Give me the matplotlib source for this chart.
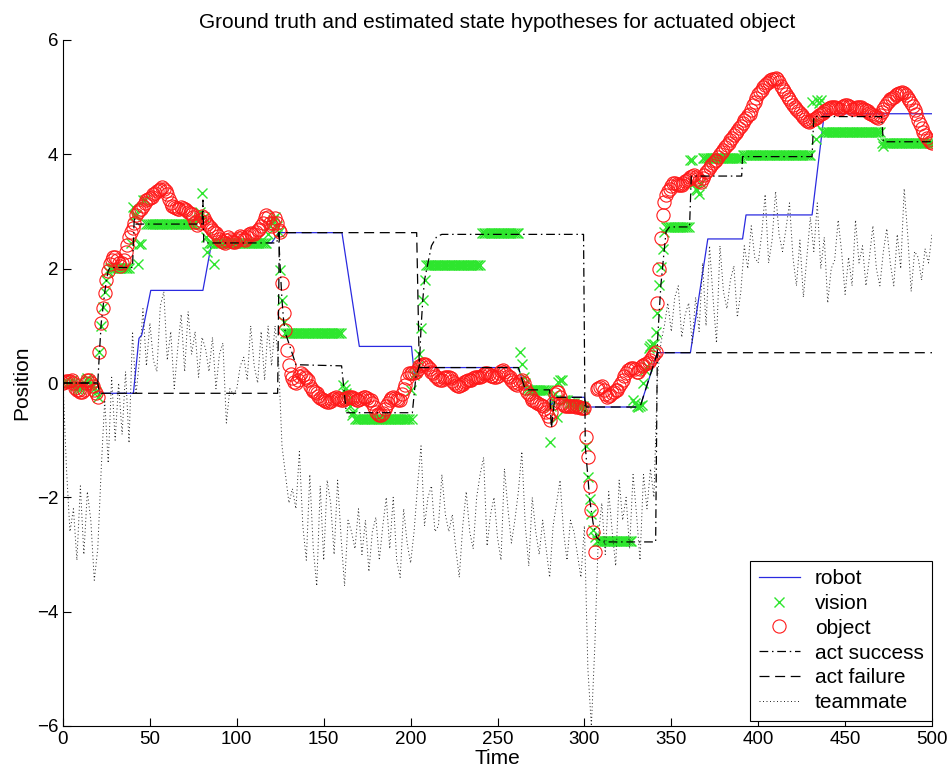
import numpy as np
import matplotlib
matplotlib.use("Agg")
import matplotlib.pyplot as plt

plt.rcParams['font.family'] = ['Liberation Sans', 'DejaVu Sans']

# ---------------- data ----------------
# object estimate (red circles), one value per time step t = 0..500
object_pos = [
    0.0, 0.02, 0.03, 0.03, 0.04, 0.05, 0.0, -0.08, -0.12, -0.13,
    -0.15, -0.15, -0.12, 0.0, 0.05, 0.05, 0.0, -0.05, -0.12, -0.18,
    -0.24, 0.55, 1.05, 1.32, 1.58, 1.8, 1.96, 2.08, 2.15, 2.2,
    2.2, 2.15, 2.1, 2.05, 2.1, 2.15, 2.3, 2.42, 2.55, 2.65,
    2.72, 2.8, 2.94, 3.0, 3.02, 3.05, 3.1, 3.15, 3.2, 3.22,
    3.24, 3.26, 3.3, 3.33, 3.36, 3.38, 3.4, 3.42, 3.4, 3.35,
    3.3, 3.22, 3.15, 3.1, 3.08, 3.06, 3.04, 3.05, 3.07, 3.06,
    3.04, 3.02, 3.0, 2.98, 2.95, 2.9, 2.82, 2.76, 2.8, 2.86,
    2.92, 2.88, 2.82, 2.78, 2.74, 2.72, 2.68, 2.65, 2.62, 2.58,
    2.52, 2.48, 2.46, 2.45, 2.5, 2.55, 2.52, 2.48, 2.46, 2.47,
    2.5, 2.54, 2.58, 2.56, 2.52, 2.5, 2.55, 2.6, 2.62, 2.6,
    2.6, 2.64, 2.68, 2.7, 2.75, 2.8, 2.88, 2.94, 2.9, 2.8,
    2.75, 2.8, 2.88, 2.8, 2.67, 2.65, 1.75, 1.22, 0.93, 0.57,
    0.31, 0.15, 0.08, 0.02, 0.0, 0.05, 0.12, 0.17, 0.14, 0.1,
    0.09, 0.05, -0.06, -0.1, -0.14, -0.16, -0.18, -0.22, -0.26, -0.28,
    -0.3, -0.32, -0.33, -0.33, -0.31, -0.28, -0.26, -0.24, -0.26, -0.28,
    -0.3, -0.3, -0.28, -0.26, -0.25, -0.24, -0.24, -0.26, -0.28, -0.3,
    -0.3, -0.28, -0.26, -0.24, -0.25, -0.27, -0.29, -0.3, -0.35, -0.42,
    -0.5, -0.54, -0.56, -0.56, -0.52, -0.46, -0.41, -0.35, -0.3, -0.26,
    -0.24, -0.26, -0.28, -0.3, -0.3, -0.2, -0.1, -0.03, 0.08, 0.17,
    0.18, 0.17, 0.17, 0.2, 0.25, 0.29, 0.32, 0.33, 0.33, 0.32,
    0.28, 0.24, 0.2, 0.17, 0.13, 0.1, 0.07, 0.05, 0.06, 0.08,
    0.1, 0.11, 0.11, 0.08, 0.04, 0.0, -0.03, -0.05, -0.06, -0.04,
    -0.01, 0.02, 0.04, 0.05, 0.05, 0.06, 0.08, 0.1, 0.11, 0.11,
    0.11, 0.13, 0.15, 0.17, 0.17, 0.15, 0.13, 0.12, 0.11, 0.11,
    0.13, 0.17, 0.21, 0.23, 0.2, 0.16, 0.12, 0.1, 0.06, 0.02,
    -0.01, -0.03, 0.0, 0.03, 0.05, 0.0, -0.08, -0.15, -0.2, -0.25,
    -0.3, -0.32, -0.34, -0.35, -0.36, -0.38, -0.4, -0.45, -0.5, -0.58,
    -0.65, -0.5, -0.35, -0.2, -0.15, -0.15, -0.25, -0.35, -0.38, -0.4,
    -0.41, -0.41, -0.4, -0.4, -0.41, -0.42, -0.41, -0.42, -0.43, -0.44,
    -0.44, -0.94, -1.3, -1.8, -2.22, -2.6, -2.95, -0.1, -0.09, -0.07,
    -0.06, -0.12, -0.2, -0.24, -0.23, -0.21, -0.18, -0.15, -0.13, -0.12,
    -0.05, 0.0, 0.05, 0.12, 0.18, 0.23, 0.25, 0.26, 0.26, 0.24,
    0.2, 0.2, 0.24, 0.29, 0.31, 0.33, 0.35, 0.37, 0.4, 0.45,
    0.5, 0.55, 1.4, 2.0, 2.53, 2.94, 3.17, 3.28, 3.35, 3.4,
    3.45, 3.49, 3.5, 3.48, 3.46, 3.46, 3.47, 3.5, 3.53, 3.55,
    3.57, 3.6, 3.62, 3.64, 3.6, 3.56, 3.53, 3.52, 3.58, 3.64,
    3.69, 3.73, 3.77, 3.81, 3.85, 3.88, 3.9, 3.95, 4.0, 4.04,
    4.08, 4.12, 4.16, 4.2, 4.25, 4.29, 4.33, 4.37, 4.41, 4.46,
    4.5, 4.55, 4.6, 4.64, 4.68, 4.71, 4.78, 4.86, 4.92, 4.98,
    5.05, 5.09, 5.13, 5.17, 5.21, 5.24, 5.27, 5.3, 5.31, 5.32,
    5.33, 5.32, 5.26, 5.2, 5.15, 5.1, 5.06, 5.01, 4.96, 4.92,
    4.87, 4.83, 4.8, 4.76, 4.72, 4.68, 4.66, 4.62, 4.58, 4.57,
    4.58, 4.6, 4.62, 4.64, 4.66, 4.69, 4.71, 4.73, 4.75, 4.77,
    4.79, 4.81, 4.82, 4.83, 4.82, 4.81, 4.8, 4.8, 4.82, 4.84,
    4.86, 4.86, 4.84, 4.82, 4.8, 4.8, 4.81, 4.82, 4.83, 4.82,
    4.8, 4.79, 4.77, 4.75, 4.73, 4.71, 4.69, 4.67, 4.65, 4.63,
    4.68, 4.74, 4.8, 4.85, 4.89, 4.93, 4.96, 4.99, 5.01, 5.03,
    5.05, 5.07, 5.08, 5.09, 5.08, 5.04, 4.99, 4.95, 4.9, 4.85,
    4.78, 4.7, 4.6, 4.53, 4.46, 4.39, 4.34, 4.29, 4.25, 4.22,
    4.19,
]

# vision measurements (green x), one value per time step t = 0..500
vision_pos = [
    0.0, 0.02, 0.03, 0.0, -0.02, 0.05, 0.0, -0.05, -0.1, -0.05,
    -0.1, -0.05, 0.0, 0.05, 0.08, 0.05, 0.0, -0.05, -0.1, -0.15,
    -0.25, 0.55, 1.0, 1.33, 1.6, 1.8, 1.96, 2.02, 2.02, 2.02,
    2.02, 2.02, 2.02, 2.02, 2.02, 2.02, 2.02, 2.02, 2.02, 2.45,
    3.08, 2.94, 2.94, 2.09, 2.44, 2.44, 3.2, 3.2, 2.78, 2.78,
    2.78, 2.78, 2.78, 2.78, 2.78, 2.78, 2.78, 2.78, 2.78, 2.78,
    2.78, 2.78, 2.78, 2.78, 2.78, 2.78, 2.78, 2.78, 2.78, 2.78,
    2.78, 2.78, 2.78, 2.78, 2.78, 2.78, 2.78, 2.85, 2.9, 3.0,
    3.32, 2.9, 2.56, 2.3, 2.45, 2.45, 2.45, 2.09, 2.45, 2.45,
    2.45, 2.45, 2.45, 2.45, 2.45, 2.45, 2.45, 2.45, 2.45, 2.45,
    2.45, 2.45, 2.45, 2.45, 2.45, 2.45, 2.45, 2.45, 2.45, 2.45,
    2.45, 2.45, 2.45, 2.45, 2.45, 2.45, 2.45, 2.45, 2.6, 2.75,
    2.8, 2.85, 2.9, 2.75, 2.65, 1.98, 1.45, 1.07, 0.87, 0.87,
    0.87, 0.87, 0.87, 0.87, 0.87, 0.87, 0.87, 0.87, 0.87, 0.87,
    0.87, 0.87, 0.87, 0.87, 0.87, 0.87, 0.87, 0.87, 0.87, 0.87,
    0.87, 0.87, 0.87, 0.87, 0.87, 0.87, 0.87, 0.87, 0.87, 0.87,
    0.87, -0.03, -0.1, -0.18, -0.3, -0.4, -0.56, -0.5, -0.63, -0.63,
    -0.63, -0.63, -0.63, -0.63, -0.63, -0.63, -0.63, -0.63, -0.63, -0.63,
    -0.63, -0.63, -0.63, -0.63, -0.63, -0.63, -0.63, -0.63, -0.63, -0.63,
    -0.63, -0.63, -0.63, -0.63, -0.63, -0.63, -0.63, -0.63, -0.63, -0.63,
    -0.12, -0.63, 0.14, 0.2, 0.3, 0.5, 0.96, 1.45, 1.8, 2.07,
    2.07, 2.07, 2.07, 2.07, 2.07, 2.07, 2.07, 2.07, 2.07, 2.07,
    2.07, 2.07, 2.07, 2.07, 2.07, 2.07, 2.07, 2.07, 2.07, 2.07,
    2.07, 2.07, 2.07, 2.07, 2.07, 2.07, 2.07, 2.07, 2.07, 2.07,
    2.07, 2.62, 2.62, 2.62, 2.62, 2.62, 2.62, 2.62, 2.62, 2.62,
    2.62, 2.62, 2.62, 2.62, 2.62, 2.62, 2.62, 2.62, 2.62, 2.62,
    2.62, 2.62, 2.62, 0.55, 0.34, 0.11, 0.0, -0.1, -0.12, -0.12,
    -0.12, -0.12, -0.12, -0.12, -0.12, -0.12, -0.12, -0.12, -0.12, -0.12,
    -1.03, -0.4, -0.3, -0.2, -0.59, 0.02, 0.05, 0.05, -0.3, -0.3,
    -0.3, -0.35, -0.35, -0.35, -0.35, -0.38, -0.38, -0.4, -0.4, -0.4,
    -0.45, -1.11, -1.64, -2.03, -2.3, -2.57, -2.7, -2.77, -2.77, -2.77,
    -2.77, -2.77, -2.77, -2.77, -2.77, -2.77, -2.77, -2.77, -2.77, -2.77,
    -2.77, -2.77, -2.77, -2.77, -2.77, -2.77, -2.77, -2.77, -0.3, -0.35,
    -0.4, -0.42, -0.4, -0.38, 0.0, 0.23, 0.3, 0.61, 0.65, 0.69,
    0.69, 0.9, 1.22, 1.71, 2.03, 2.35, 2.65, 2.73, 2.73, 2.73,
    2.73, 2.73, 2.73, 2.73, 2.73, 2.73, 2.73, 2.73, 2.73, 2.73,
    2.73, 3.9, 3.9, 3.5, 3.4, 3.37, 3.3, 3.5, 3.93, 3.93,
    3.93, 3.93, 3.93, 3.93, 3.93, 3.93, 3.93, 3.93, 3.93, 3.93,
    3.93, 3.93, 3.93, 3.93, 3.93, 3.93, 3.93, 3.93, 3.93, 3.93,
    3.93, 3.99, 3.99, 3.99, 3.99, 3.99, 3.99, 3.99, 3.99, 3.99,
    3.99, 3.99, 3.99, 3.99, 3.99, 3.99, 3.99, 3.99, 3.99, 3.99,
    3.99, 3.99, 3.99, 3.99, 3.99, 3.99, 3.99, 3.99, 3.99, 3.99,
    3.99, 3.99, 3.99, 3.99, 3.99, 3.99, 3.99, 3.99, 3.99, 3.99,
    3.99, 4.92, 4.57, 4.27, 4.95, 4.9, 4.95, 4.39, 4.39, 4.39,
    4.39, 4.39, 4.39, 4.39, 4.39, 4.39, 4.39, 4.39, 4.39, 4.39,
    4.39, 4.39, 4.39, 4.39, 4.39, 4.39, 4.39, 4.39, 4.39, 4.39,
    4.39, 4.39, 4.39, 4.39, 4.39, 4.39, 4.39, 4.39, 4.39, 4.39,
    4.39, 4.2, 4.14, 4.2, 4.2, 4.2, 4.2, 4.2, 4.2, 4.2,
    4.2, 4.2, 4.2, 4.2, 4.2, 4.2, 4.2, 4.2, 4.2, 4.2,
    4.2, 4.2, 4.2, 4.2, 4.2, 4.2, 4.2, 4.2, 4.2, 4.2,
    4.2,
]

# teammate report (dotted), every 2nd time step t = 0, 2, ..., 500
teammate_pos = [
    0.0, -1.5, -2.6, -2.2, -3.1, -1.8, -3.0, -1.9, -2.4, -3.45,
    -2.9, -1.5, -0.3, -1.4, 0.1, -1.0, 0.0, -0.9, 0.2, -1.05,
    0.9, -0.2, 0.4, 1.3, 0.3, 1.05, 0.4, 0.2, 1.35, 1.6,
    0.4, 0.9, -0.1, 0.6, 1.2, 0.2, 1.25, 0.5, 0.9, 0.1,
    0.8, 0.6, 0.2, 0.8, -0.1, 0.5, 0.7, -0.7, -0.1, -0.2,
    -0.1, 0.3, 0.45, 0.05, 1.0, 0.3, 0.0, 0.9, 0.05, 1.0,
    0.3, 1.0, 0.4, -1.1, -1.6, -2.1, -1.85, -2.2, -1.2, -2.5,
    -3.1, -1.6, -2.9, -3.55, -1.8, -3.1, -1.7, -2.1, -3.0, -1.7,
    -2.7, -3.55, -2.4, -2.6, -2.9, -2.2, -3.0, -2.4, -3.3, -2.6,
    -2.35, -3.1, -2.5, -2.0, -2.9, -2.0, -3.1, -3.4, -2.2, -2.8,
    -3.15, -2.6, -1.8, -1.1, -2.5, -2.0, -1.8, -2.6, -2.5, -1.6,
    -2.3, -2.6, -2.3, -2.9, -3.4, -2.5, -1.9, -2.6, -2.9, -2.0,
    -1.6, -1.3, -2.85, -2.3, -2.0, -2.7, -3.1, -1.5, -2.2, -2.8,
    -2.4, -1.9, -1.2, -2.5, -3.2, -2.0, -2.6, -3.0, -2.4, -2.9,
    -3.4, -2.5, -2.1, -1.7, -2.6, -3.1, -2.4, -2.6, -3.0, -3.4,
    -2.5, -5.0, -6.0, -4.6, -2.7, -2.1, -3.0, -1.9, -2.6, -3.2,
    -1.7, -2.4, -2.0, -2.9, -1.6, -2.3, -3.1, -1.6, -2.2, -1.5,
    -2.0, 0.1, 0.7, 1.0, 1.4, 0.9, 1.5, 1.7, 0.8, 1.2,
    1.4, 0.7, 1.5, 0.9, 2.1, 1.0, 2.4, 1.5, 0.7, 2.4,
    1.6, 1.3, 1.8, 2.05, 1.15, 1.6, 2.4, 2.0, 2.75, 2.2,
    2.1, 2.6, 3.3, 2.1, 2.5, 3.35, 2.6, 2.3, 2.7, 3.15,
    2.2, 1.7, 2.5, 1.5, 2.2, 2.9, 2.3, 3.15, 2.0, 2.55,
    1.4, 2.0, 2.15, 2.85, 2.3, 1.55, 2.2, 1.7, 2.85, 2.1,
    2.4, 1.7, 2.2, 2.75, 2.0, 1.7, 2.3, 2.7, 2.1, 1.7,
    2.6, 2.0, 3.4, 2.6, 1.6, 2.3, 2.2, 1.8, 2.35, 2.1,
    2.6,
]

# piecewise-linear hypotheses: breakpoints (time, position)
robot_t = [0, 20, 21, 40.5, 43.7, 45.3, 50.5, 80.5, 85.5, 120, 124, 160.5, 170.5,
           200.5, 202.5, 205, 262, 266, 280, 281, 283, 300, 301, 332, 342, 361,
           371, 391, 393, 431, 438, 500]
robot_v = [0, 0, -0.18, -0.18, 0.78, 0.84, 1.62, 1.62, 2.45, 2.45, 2.63, 2.63, 0.64,
           0.64, 0.05, 0.27, 0.27, -0.12, -0.12, -0.4, -0.25, -0.25, -0.42, -0.42,
           0.53, 0.53, 2.52, 2.52, 2.94, 2.94, 4.71, 4.71]

success_t = [0, 20, 21, 22, 23, 24, 25, 26, 27, 40, 41, 42, 80, 80.5, 81, 123, 124,
             125, 126, 127, 128, 131, 134, 160.3, 163, 201, 203, 205, 206, 207,
             208, 210, 212, 215, 218, 299.5, 300.5, 302, 303, 305, 307, 310, 341,
             342, 343, 344, 345, 346, 347, 349, 360.5, 361.5, 390.5, 391, 431,
             432, 471, 472, 500]
success_v = [0, 0, 0.55, 1.05, 1.32, 1.58, 1.8, 1.96, 2.02, 2.02, 2.9, 2.78, 2.78,
             3.2, 2.45, 2.45, 2.63, 2.0, 1.45, 1.07, 0.87, 0.6, 0.32, 0.3, -0.52,
             -0.52, 0.1, 0.3, 0.96, 1.45, 1.8, 2.1, 2.4, 2.56, 2.6, 2.6, -1.11,
             -1.64, -2.03, -2.45, -2.7, -2.78, -2.78, 0.69, 1.22, 1.71, 2.03, 2.35,
             2.65, 2.73, 2.73, 3.62, 3.62, 3.96, 3.96, 4.66, 4.66, 4.22, 4.22]

failure_t = [0, 20, 21, 123.5, 124.5, 203.5, 205, 262, 266, 280, 281, 283, 300,
             301, 332, 342, 500]
failure_v = [0, 0, -0.18, -0.18, 2.63, 2.63, 0.27, 0.27, -0.12, -0.12, -0.8, -0.25,
             -0.25, -0.42, -0.42, 0.53, 0.53]

labels = ['robot', 'vision', 'object', 'act success', 'act failure', 'teammate']
title = 'Ground truth and estimated state hypotheses for actuated object'

# ---------------- plot ----------------
t_step = np.arange(len(object_pos))
t_team = np.arange(len(teammate_pos)) * 2
assert len(object_pos) == 501 and len(vision_pos) == 501 and len(teammate_pos) == 251

fig = plt.figure(figsize=(9.52, 7.82), dpi=100)
ax = fig.add_axes([63 / 952, 1 - 726 / 782, (932 - 63) / 952, (726 - 40) / 782])

ax.plot(robot_t, robot_v, '-', color='#2a2ae0', lw=0.9, label=labels[0])
ax.plot(t_step, vision_pos, 'x', color='#2ee62e', ms=6.5, mew=1.0, label=labels[1])
ax.plot(t_step, object_pos, 'o', mfc='none', mec='#ff1a1a', ms=9.5, mew=0.8,
        label=labels[2])
ax.plot(success_t, success_v, color='black', lw=0.9, linestyle=(0, (7, 3, 1.2, 3)),
        label=labels[3])
ax.plot(failure_t, failure_v, color='black', lw=0.9, linestyle=(0, (8, 4.5)),
        label=labels[4])
ax.plot(t_team, teammate_pos, color='#222222', lw=0.7, linestyle=(0, (1, 2.6)),
        label=labels[5])

ax.set_xlim(0, 500)
ax.set_ylim(-6, 6)
ax.set_xticks(np.arange(0, 501, 50))
ax.set_yticks(np.arange(-6, 7, 2))
ax.spines['top'].set_visible(False)
ax.spines['right'].set_visible(False)
ax.tick_params(direction='in', length=6, width=0.8, labelsize=13.5)
ax.set_xlabel('Time', fontsize=15, labelpad=1)
ax.set_ylabel('Position', fontsize=15, labelpad=4)
ax.set_title(title, fontsize=15, pad=9)

leg = ax.legend(loc='lower right', bbox_to_anchor=(1.0, 0.008), borderaxespad=0,
                fontsize=15, frameon=True, fancybox=False, edgecolor='black',
                framealpha=1, handlelength=2.0, labelspacing=0.28,
                borderpad=0.4, handletextpad=0.7)
leg.get_frame().set_linewidth(0.8)

fig.savefig('out.png', dpi=100)
